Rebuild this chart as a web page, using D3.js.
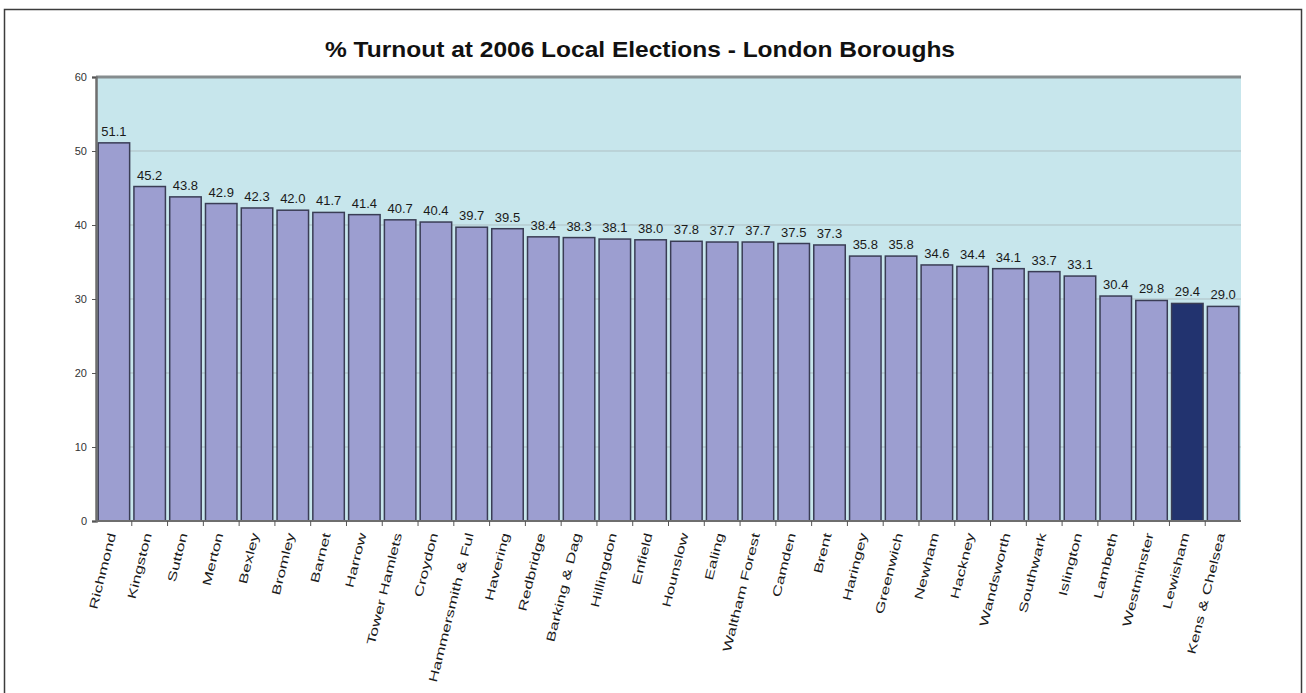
<!DOCTYPE html>
<html>
<head>
<meta charset="utf-8">
<script src="https://cdn.jsdelivr.net/npm/d3@7/dist/d3.min.js"></script>
<style>
  html, body { margin: 0; padding: 0; background: #ffffff; }
  svg { display: block; }
  text { font-family: "Liberation Sans", Arial, sans-serif; }
</style>
</head>
<body>
<svg id="chart" width="1306" height="693"></svg>
<script>
// Turnout (%) at the 2006 local elections, by London borough
const boroughs = [
  "Richmond", "Kingston", "Sutton", "Merton", "Bexley", "Bromley", "Barnet",
  "Harrow", "Tower Hamlets", "Croydon", "Hammersmith & Ful", "Havering",
  "Redbridge", "Barking & Dag", "Hillingdon", "Enfield", "Hounslow", "Ealing",
  "Waltham Forest", "Camden", "Brent", "Haringey", "Greenwich", "Newham",
  "Hackney", "Wandsworth", "Southwark", "Islington", "Lambeth", "Westminster",
  "Lewisham", "Kens & Chelsea"
];
const turnout = [
  51.1, 45.2, 43.8, 42.9, 42.3, 42.0, 41.7,
  41.4, 40.7, 40.4, 39.7, 39.5,
  38.4, 38.3, 38.1, 38.0, 37.8, 37.7,
  37.7, 37.5, 37.3, 35.8, 35.8, 34.6,
  34.4, 34.1, 33.7, 33.1, 30.4, 29.8,
  29.4, 29.0
];
const highlighted = ["Lewisham"];
const yTicks = [0, 10, 20, 30, 40, 50, 60];
const yDomain = [0, 60];
const titleText = "% Turnout at 2006 Local Elections - London Boroughs";

const svg = d3.select("#chart");
const W = 1306, H = 693;
const plot = { left: 96, right: 1241, top: 77, bottom: 521 };

// outer frame
svg.append("rect")
  .attr("x", 4.5).attr("y", 9.5)
  .attr("width", 1297).attr("height", 700)
  .attr("fill", "#ffffff")
  .attr("stroke", "#3c3c3c").attr("stroke-width", 1.5);

const x = d3.scaleBand()
  .domain(boroughs)
  .range([plot.left, plot.right])
  .paddingInner(0.12)
  .paddingOuter(0.06);

const y = d3.scaleLinear()
  .domain(yDomain)
  .range([plot.bottom, plot.top]);

// plot background
svg.append("rect")
  .attr("x", plot.left).attr("y", plot.top)
  .attr("width", plot.right - plot.left)
  .attr("height", plot.bottom - plot.top)
  .attr("fill", "#c7e6ec");

// gridlines
svg.append("g")
  .selectAll("line")
  .data(yTicks.filter(t => t > 0 && t < 60))
  .join("line")
  .attr("x1", plot.left).attr("x2", plot.right)
  .attr("y1", d => y(d)).attr("y2", d => y(d))
  .attr("stroke", "#aebfc3").attr("stroke-width", 1);

// top edge of plot area
svg.append("line")
  .attr("x1", plot.left).attr("x2", plot.right)
  .attr("y1", y(60)).attr("y2", y(60))
  .attr("stroke", "#858c8e").attr("stroke-width", 3);

// bars
const data = boroughs.map((b, i) => ({ name: b, value: turnout[i] }));
svg.append("g")
  .selectAll("rect")
  .data(data)
  .join("rect")
  .attr("x", d => x(d.name))
  .attr("y", d => y(d.value))
  .attr("width", x.bandwidth())
  .attr("height", d => y(0) - y(d.value))
  .attr("fill", d => highlighted.includes(d.name) ? "#22336f" : "#9c9ed0")
  .attr("stroke", "#3a3d55")
  .attr("stroke-width", 1.5);

// value labels
svg.append("g")
  .selectAll("text")
  .data(data)
  .join("text")
  .attr("x", d => x(d.name) + x.bandwidth() / 2)
  .attr("y", d => y(d.value) - 7)
  .attr("text-anchor", "middle")
  .attr("font-size", 13)
  .attr("fill", "#1a1a1a")
  .text(d => d.value.toFixed(1));

// y axis
const yAxis = d3.axisLeft(y).tickValues(yTicks).tickSize(4).tickPadding(5);
const gy = svg.append("g")
  .attr("transform", `translate(${plot.left},0)`)
  .call(yAxis);
gy.select(".domain").attr("stroke", "#6e6e6e").attr("stroke-width", 2.5);
gy.selectAll(".tick line").attr("stroke", "#555");
gy.selectAll(".tick text")
  .attr("font-size", 11)
  .attr("font-family", "Liberation Sans, Arial, sans-serif")
  .attr("fill", "#333");

// x axis baseline and category boundary ticks
svg.append("line")
  .attr("x1", plot.left).attr("x2", plot.right)
  .attr("y1", plot.bottom).attr("y2", plot.bottom)
  .attr("stroke", "#6e6e6e").attr("stroke-width", 2);

const step = x.step();
svg.append("g")
  .selectAll("line")
  .data(boroughs.slice(1))
  .join("line")
  .attr("x1", d => x(d) - step * x.paddingInner() / 2)
  .attr("x2", d => x(d) - step * x.paddingInner() / 2)
  .attr("y1", plot.bottom).attr("y2", plot.bottom + 5)
  .attr("stroke", "#555").attr("stroke-width", 1);

// category labels (rotated)
svg.append("g")
  .selectAll("text")
  .data(boroughs)
  .join("text")
  .attr("transform", d => `translate(${x(d) + x.bandwidth() / 2 - 2},${plot.bottom + 12}) rotate(-76) scale(1.45,1)`)
  .attr("text-anchor", "end")
  .attr("dy", "0.35em")
  .attr("font-size", 12)
  .attr("fill", "#1a1a1a")
  .text(d => d);

// title
svg.append("text")
  .attr("x", 640).attr("y", 57)
  .attr("text-anchor", "middle")
  .attr("font-size", 22)
  .attr("font-weight", "bold")
  .attr("fill", "#111")
  .attr("textLength", 630)
  .attr("lengthAdjust", "spacingAndGlyphs")
  .text(titleText);
</script>
</body>
</html>
